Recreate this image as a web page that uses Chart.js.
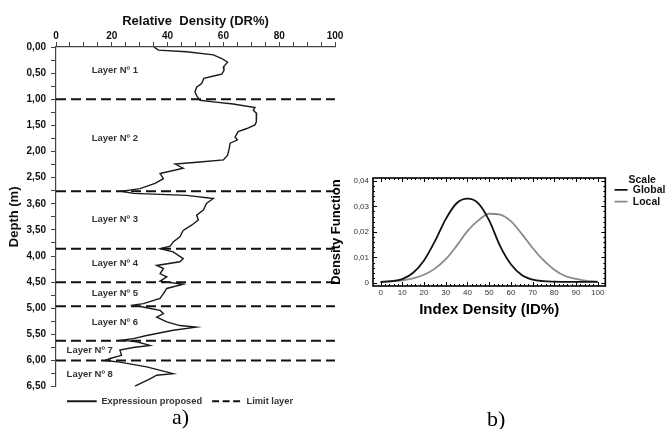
<!DOCTYPE html>
<html>
<head>
<meta charset="utf-8">
<script src="https://cdn.jsdelivr.net/npm/chart.js@4.4.0/dist/chart.umd.min.js"></script>
<style>
  html, body { margin: 0; padding: 0; background: #fff; }
  body { width: 667px; height: 429px; position: relative; overflow: hidden; }
  #profile { position: absolute; left: 0; top: 0; }
  #density { position: absolute; left: 325px; top: 160px; }
  .cap { position: absolute; font-family: "Liberation Serif", "Times New Roman", serif; font-size: 22px; line-height: 1; color: #000; }
</style>
</head>
<body>
<canvas id="profile" width="370" height="420"></canvas>
<canvas id="density" width="346" height="160"></canvas>
<div class="cap" style="left:172px;top:406px">a)</div>
<div class="cap" style="left:487px;top:408px">b)</div>
<script>
// ---- a) relative density profile ----
const profileDepth = [0.00, 0.06, 0.09, 0.15, 0.22, 0.29, 0.38, 0.45, 0.52, 0.54, 0.60, 0.70, 0.77, 0.86, 0.95,
  1.02, 1.05, 1.09, 1.16, 1.21, 1.27, 1.35, 1.43, 1.49, 1.56, 1.62, 1.72, 1.78, 1.84, 1.94, 2.07, 2.16,
  2.20, 2.24, 2.32, 2.42, 2.52, 2.61, 2.71, 2.76, 2.80, 2.84, 2.90, 2.99, 3.12, 3.22, 3.31, 3.41, 3.51,
  3.63, 3.73, 3.81, 3.86, 3.92, 4.05, 4.11, 4.18, 4.24, 4.34, 4.40, 4.48, 4.54, 4.62, 4.72, 4.81, 4.91,
  4.94, 4.99, 5.04, 5.10, 5.17, 5.26, 5.33, 5.36, 5.42, 5.52, 5.58, 5.61, 5.64, 5.71, 5.75, 5.80, 5.90,
  5.96, 6.00, 6.03, 6.12, 6.25, 6.28, 6.35, 6.49];
const profileDR = [35.1, 36.7, 46.8, 56.4, 59.4, 61.5, 60.0, 60.2, 59.4, 57.6, 53.0, 52.2, 50.4, 49.8, 50.6,
  51.6, 56.4, 63.5, 71.3, 70.7, 71.9, 71.7, 71.9, 71.3, 68.4, 65.3, 64.2, 65.0, 62.4, 62.1, 61.5, 60.0,
  51.6, 42.7, 45.6, 37.3, 38.5, 35.5, 30.1, 23.5, 27.7, 46.8, 56.4, 54.0, 52.8, 50.4, 51.0, 48.6, 45.6,
  44.4, 42.0, 40.9, 37.3, 42.0, 45.6, 44.4, 36.1, 38.5, 37.3, 39.7, 37.3, 45.6, 39.7, 38.5, 37.3, 31.3,
  27.7, 32.5, 37.3, 38.5, 36.1, 39.7, 44.4, 50.2, 42.0, 32.5, 27.7, 23.5, 28.9, 33.7, 27.7, 22.9, 23.5,
  19.4, 17.6, 22.9, 32.5, 42.0, 36.1, 33.7, 28.3];
const limitDepths = [1.00, 2.76, 3.86, 4.50, 4.96, 5.62, 6.00];
const layerNames = ['Layer Nº 1', 'Layer Nº 2', 'Layer Nº 3', 'Layer Nº 4', 'Layer Nº 5', 'Layer Nº 6', 'Layer Nº 7', 'Layer Nº 8'];
const layerTextDR = [12.8, 12.8, 12.8, 12.8, 12.8, 12.8, 3.8, 3.8];
const layerTextDepth = [0.44, 1.74, 3.30, 4.14, 4.71, 5.27, 5.80, 6.26];
const drTickLabels = ['0', '20', '40', '60', '80', '100'];
const depthTickLabels = ['0,00', '0,50', '1,00', '1,50', '2,00', '2,50', '3,60', '3,50', '4,00', '4,50', '5,00', '5,50', '6,00', '6,50'];

// ---- b) density functions ----
const idValues = [0, 5, 10, 15, 20, 25, 30, 35, 40, 45, 50, 55, 60, 65, 70, 75, 80, 85, 90, 95, 100];
const globalPdf = [0.0004, 0.0007, 0.0015, 0.0040, 0.0088, 0.0163, 0.0250, 0.0312, 0.0330, 0.0312, 0.0245,
  0.0145, 0.0073, 0.0031, 0.0013, 0.0007, 0.0005, 0.0004, 0.0004, 0.0004, 0.0004];
const localPdf = [0.0003, 0.0006, 0.0010, 0.0018, 0.0032, 0.0056, 0.0093, 0.0145, 0.0203, 0.0245, 0.0271,
  0.0268, 0.0242, 0.0192, 0.0137, 0.0089, 0.0052, 0.0027, 0.0016, 0.0008, 0.0005];
const idTicks = [0, 10, 20, 30, 40, 50, 60, 70, 80, 90, 100];
const idTickLabels = ['0', '10', '20', '30', '40', '50', '60', '70', '80', '90', '100'];
const pdfTicks = [0, 0.01, 0.02, 0.03, 0.04];
const pdfTickLabels = ['0', '0,01', '0,02', '0,03', '0,04'];

Chart.defaults.font.family = '"Liberation Sans", Arial, Helvetica, sans-serif';
Chart.defaults.color = '#111';

const layerText = {
  id: 'layerText',
  afterDatasetsDraw(chart) {
    const { ctx, scales: { x, y } } = chart;
    ctx.save();
    ctx.font = 'bold 9.5px "Liberation Sans", Arial, sans-serif';
    ctx.fillStyle = '#333';
    ctx.textBaseline = 'middle';
    layerNames.forEach((name, i) => {
      ctx.fillText(name, x.getPixelForValue(layerTextDR[i]), y.getPixelForValue(layerTextDepth[i]));
    });
    ctx.restore();
  }
};

const limitSets = limitDepths.map(d => ({
  label: 'Limit layer',
  data: [{ x: 0, y: d }, { x: 100, y: d }],
  borderColor: '#111',
  borderWidth: 2,
  borderDash: [10, 5],
  pointRadius: 0
}));

new Chart(document.getElementById('profile'), {
  type: 'line',
  data: {
    datasets: [{
      label: 'Expressioun proposed',
      data: profileDepth.map((d, i) => ({ x: profileDR[i], y: d })),
      borderColor: '#1a1a1a',
      borderWidth: 1.4,
      pointRadius: 0,
      tension: 0
    }, ...limitSets]
  },
  options: {
    responsive: false,
    animation: false,
    layout: { padding: { left: 4, top: 4, right: 14, bottom: 4 } },
    plugins: {
      tooltip: { enabled: false },
      legend: {
        position: 'bottom',
        labels: {
          boxWidth: 29.75,
          boxHeight: 0,
          padding: 10,
          color: '#333',
          font: { size: 9.3, weight: 'bold' },
          generateLabels(chart) {
            const items = Chart.defaults.plugins.legend.labels.generateLabels(chart);
            return items.filter(it => it.datasetIndex <= 1).map(it => Object.assign(it, {
              lineWidth: 2,
              fillStyle: 'rgba(0,0,0,0)',
              lineDash: it.datasetIndex === 1 ? [7, 3.5] : [],
              lineCap: 'butt',
              lineJoin: 'bevel'
            }));
          }
        }
      }
    },
    scales: {
      x: {
        type: 'linear',
        position: 'top',
        min: 0,
        max: 100,
        ticks: {
          stepSize: 5,
          autoSkip: false,
          maxRotation: 0,
          padding: 0,
          font: { size: 10, weight: 'bold' },
          callback: v => (v % 20 === 0 ? drTickLabels[v / 20] : '')
        },
        grid: { drawOnChartArea: false, tickLength: 5, color: '#444' },
        border: { color: '#444', width: 1.2 },
        title: { display: true, text: 'Relative  Density (DR%)', font: { size: 13, weight: 'bold' }, padding: { top: 10, bottom: 2 } },
        afterFit(s) { s.height = 43; }
      },
      y: {
        type: 'linear',
        reverse: true,
        min: 0,
        max: 6.5,
        ticks: {
          stepSize: 0.25,
          autoSkip: false,
          padding: 5,
          font: { size: 10, weight: 'bold' },
          callback: v => {
            const k = Math.round(v * 4);
            return k % 2 === 0 ? depthTickLabels[k / 2] : '';
          }
        },
        grid: { drawOnChartArea: false, tickLength: 5, color: '#444' },
        border: { color: '#444', width: 1.2 },
        title: { display: true, text: 'Depth (m)', font: { size: 13, weight: 'bold' }, padding: { top: 3, bottom: 0 } },
        afterFit(s) { s.width = 52; }
      },
      gapRight: {
        type: 'linear',
        position: 'right',
        grid: { display: false, drawTicks: false },
        border: { display: false },
        ticks: { display: false },
        afterFit(s) { s.width = 21; }
      }
    }
  },
  plugins: [layerText]
});

// inner ticks and frame of the b) panel
const frameTicks = {
  id: 'frameTicks',
  afterDraw(chart) {
    const { ctx, chartArea: a, scales: { x, y } } = chart;
    ctx.save();
    ctx.strokeStyle = '#000';
    ctx.lineWidth = 1;
    ctx.beginPath();
    for (let v = 0; v <= 100; v += 2) {
      const px = Math.round(x.getPixelForValue(v)) + 0.5;
      const len = v % 10 === 0 ? 4 : 2;
      ctx.moveTo(px, a.bottom); ctx.lineTo(px, a.bottom - len);
      ctx.moveTo(px, a.top); ctx.lineTo(px, a.top + len);
    }
    for (let k = 0; k <= 20; k++) {
      const py = Math.round(y.getPixelForValue(k * 0.002)) + 0.5;
      const len = k % 5 === 0 ? 4 : 2;
      ctx.moveTo(a.left, py); ctx.lineTo(a.left + len, py);
      ctx.moveTo(a.right, py); ctx.lineTo(a.right - len, py);
    }
    ctx.stroke();
    ctx.lineWidth = 1.6;
    ctx.strokeRect(a.left, a.top, a.right - a.left, a.bottom - a.top);
    ctx.restore();
  }
};

new Chart(document.getElementById('density'), {
  type: 'line',
  data: {
    datasets: [{
      label: 'Global',
      data: idValues.map((v, i) => ({ x: v, y: globalPdf[i] })),
      borderColor: '#111',
      borderWidth: 1.8,
      pointRadius: 0,
      cubicInterpolationMode: 'monotone'
    }, {
      label: 'Local',
      data: idValues.map((v, i) => ({ x: v, y: localPdf[i] })),
      borderColor: '#8a8a8a',
      borderWidth: 1.8,
      pointRadius: 0,
      cubicInterpolationMode: 'monotone'
    }]
  },
  options: {
    responsive: false,
    animation: false,
    layout: { padding: { left: 0, top: 9, right: 0, bottom: 0 } },
    plugins: {
      tooltip: { enabled: false },
      legend: {
        position: 'right',
        align: 'start',
        title: { display: true, text: 'Scale', color: '#111', font: { size: 10.5, weight: 'bold', lineHeight: 1 }, padding: { top: 6, bottom: -2 } },
        labels: {
          usePointStyle: true,
          pointStyle: 'line',
          pointStyleWidth: 13,
          padding: 1.2,
          color: '#111',
          font: { size: 10.5, weight: 'bold', lineHeight: 1 }
        }
      }
    },
    scales: {
      x: {
        type: 'linear',
        min: -3.5,
        max: 103.5,
        afterBuildTicks(s) { s.ticks = idTicks.map(v => ({ value: v })); },
        ticks: { autoSkip: false, maxRotation: 0, padding: 2, color: '#333', font: { size: 8 }, callback: (v, i) => idTickLabels[i] },
        grid: { display: false, drawTicks: false },
        border: { display: false },
        title: { display: true, text: 'Index Density (ID%)', color: '#000', font: { size: 15, weight: 'bold' }, padding: { top: 0, bottom: 1 } },
        afterFit(s) { s.height = 34; }
      },
      y: {
        type: 'linear',
        min: -0.0012,
        max: 0.0411,
        afterBuildTicks(s) { s.ticks = pdfTicks.map(v => ({ value: v })); },
        ticks: { autoSkip: false, padding: 4, color: '#333', font: { size: 8 }, callback: (v, i) => pdfTickLabels[i] },
        grid: { display: false, drawTicks: false },
        border: { display: false },
        title: { display: true, text: 'Density Function', color: '#000', font: { size: 13, weight: 'bold' }, padding: { top: 4, bottom: 0 } },
        afterFit(s) { s.width = 48; }
      },
      gapTop: {
        type: 'linear',
        position: 'top',
        grid: { display: false, drawTicks: false },
        border: { display: false },
        ticks: { display: false },
        afterFit(s) { s.height = 9; }
      },
      gapRight: {
        type: 'linear',
        position: 'right',
        grid: { display: false, drawTicks: false },
        border: { display: false },
        ticks: { display: false },
        afterFit(s) { s.width = 8; }
      }
    }
  },
  plugins: [frameTicks]
});
</script>
</body>
</html>
